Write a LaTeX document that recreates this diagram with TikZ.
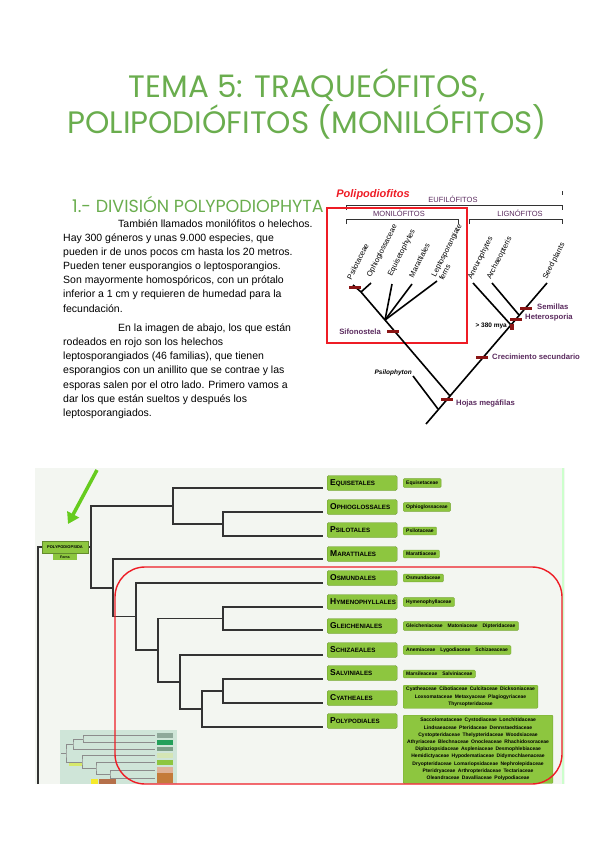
\documentclass[tikz,border=0pt]{standalone}
\usepackage{fontspec}
\setmainfont{Liberation Sans}
\newfontfamily\headfont{Poppins}
\usepackage{xcolor}
\usetikzlibrary{arrows.meta,positioning,calc}
\definecolor{leaf}{HTML}{6AAD4E}
\definecolor{plum}{HTML}{5A2A5E}
\definecolor{maroon}{HTML}{8A1515}
\definecolor{grass}{HTML}{8DC63F}
\definecolor{screen}{HTML}{F3F6F1}
\definecolor{arrowgreen}{HTML}{66CC1E}
\definecolor{boxred}{HTML}{EE1C25}
\definecolor{insetbg}{HTML}{CFE5D8}
\definecolor{ins1}{HTML}{8FA99A}
\definecolor{ins2}{HTML}{23A05A}
\definecolor{ins3}{HTML}{7C9F88}
\definecolor{ins4}{HTML}{D4E6B5}
\definecolor{ins5}{HTML}{8DC63F}
\definecolor{ins6}{HTML}{DFB197}
\definecolor{ins7}{HTML}{C47A3A}
\definecolor{tagpale}{HTML}{D6E86A}
\definecolor{tagyellow}{HTML}{F5EA2A}
\definecolor{tagbrown}{HTML}{B5704A}
\newcommand{\ordname}[2]{{\fontsize{8.5}{8.5}\selectfont #1}{\fontsize{6.2}{6.2}\selectfont #2}}

\begin{document}
\begin{tikzpicture}[x=1pt,y=-1pt,every node/.style={inner sep=0pt},
  title/.style={anchor=base,text=leaf,font=\headfont\fontsize{31}{34}\selectfont},
  branch/.style={line width=1.6pt,black},
  synbar/.style={fill=maroon,minimum width=12pt,minimum height=3pt},
  taxon/.style={rotate=63,anchor=west,font=\fontsize{7.5}{8.5}\selectfont},
  event/.style={text=plum,font=\bfseries\fontsize{7.7}{8}\selectfont},
  group/.style={text=plum,font=\fontsize{7.5}{8}\selectfont},
  bracket/.style={line width=0.8pt,black!80},
  clade/.style={line width=1.2pt,black!80},
  ordbox/.style={fill=grass,draw=grass!75!black,rounded corners=1.5pt,minimum width=70pt,minimum height=15pt,anchor=west,font=\bfseries,text width=64pt,align=left},
  fambox/.style={fill=grass,draw=grass!85!black,rounded corners=1pt,inner xsep=3pt,inner ysep=2pt,anchor=west,font=\bfseries\fontsize{5}{7.2}\selectfont,align=center},
  insetline/.style={line width=0.9pt,black!45}]
\useasboundingbox (0,0) rectangle (600,848);

\node[title] (tema) at (307,98) {TEMA 5: TRAQUEÓFITOS,};
\node[title] (tema2) at (307,133) {POLIPODIÓFITOS (MONILÓFITOS)};
\node[anchor=base west,text=leaf,font=\headfont\fontsize{17.5}{19}\selectfont] (division) at (72,212) {1.- DIVISIÓN POLYPODIOPHYTA};
\node[anchor=north west,align=left,font=\fontsize{10.5}{14.1}\selectfont] (texto) at (63,219.5) {\hspace*{55pt}También llamados monilófitos o helechos.\\
Hay 300 géneros y unas 9.000 especies, que\\
pueden ir de unos pocos cm hasta los 20 metros.\\
Pueden tener eusporangios o leptosporangios.\\
Son mayormente homospóricos, con un prótalo\\
inferior a 1 cm y requieren de humedad para la\\
fecundación.\\[5.5pt]
\hspace*{55pt}En la imagen de abajo, los que están\\
rodeados en rojo son los helechos\\
leptosporangiados (46 familias), que tienen\\
esporangios con un anillito que se contrae y las\\
esporas salen por el otro lado. Primero vamos a\\
dar los que están sueltos y después los\\
leptosporangiados.};

\node[text=boxred,font=\bfseries\itshape\fontsize{11}{12}\selectfont] (polip) at (373,195) {Polipodiofitos};
\node[group] (eufi) at (453,199) {EUFILÓFITOS};
\node[group] (moni) at (399,213) {MONILÓFITOS};
\node[group] (ligno) at (520,213) {LIGNÓFITOS};
\draw[bracket] (346,210) -- (346,205) -- (562,205) -- (562,210);
\draw[bracket] (562,191) -- (562,195);
\draw[bracket] (346,224) -- (346,219) -- (458,219) -- (458,224);
\draw[bracket] (469,224) -- (469,219) -- (562,219) -- (562,224);
\draw[boxred,line width=2.2pt] (327,208) rectangle (467,343);

\coordinate (r0) at (426,424);
\coordinate (psj) at (438,409);
\coordinate (meg) at (450,396);
\coordinate (nmon) at (385,320);
\coordinate (nps) at (361,292);
\coordinate (tpsil) at (353,285);
\coordinate (toph) at (371,283);
\coordinate (tequ) at (392,284);
\coordinate (tmar) at (412,284);
\coordinate (tlep) at (437,281);
\coordinate (tpsi) at (413,376);
\coordinate (tseed) at (547,283);
\coordinate (taneu) at (473,283);
\coordinate (tarch) at (492,283);
\coordinate (j380) at (511,325);
\coordinate (jhet) at (519,315);
\draw[branch] (r0) -- (meg) -- (nmon) -- (nps) -- (tpsil);
\draw[branch] (nps) -- (toph);
\draw[branch] (nmon) -- (tequ);
\draw[branch] (nmon) -- (tmar);
\draw[branch] (nmon) -- (tlep);
\draw[branch] (meg) -- (tseed);
\draw[branch] (psj) -- (tpsi);
\draw[branch] (taneu) -- (j380);
\draw[branch] (tarch) -- (jhet);
\node[synbar] (mpsil) at (355,287) {};
\node[synbar] (msifo) at (393,331) {};
\node[synbar] (mhojas) at (447,399) {};
\node[synbar] (mcrec) at (482,357) {};
\node[synbar] (mhet) at (516,319) {};
\node[synbar] (msem) at (526,308) {};
\node[fill=maroon,minimum width=4pt,minimum height=6pt] (m380) at (512,327) {};

\node[taxon] (lpsil) at (349,279) {Psilotaceae};
\node[taxon] (loph) at (369,277) {Ophioglossaceae};
\node[taxon] (lequ) at (390,276) {Equisetophytes};
\node[taxon] (lmar) at (411,277) {Marattiales};
\node[taxon,align=left] (llep) at (437,278) {Leptosporangiate\\ferns};
\node[taxon] (laneu) at (470,279) {Aneurophytes};
\node[taxon] (larch) at (489,279) {Archaeopteris};
\node[taxon] (lseed) at (545,279) {Seed plants};
\node[event,anchor=east] (sifo) at (381,332) {Sifonostela};
\node[event,anchor=west] (hojas) at (456,403) {Hojas megáfilas};
\node[event,anchor=west] (crec) at (492,357) {Crecimiento secundario};
\node[event,anchor=west] (hetero) at (525,318) {Heterosporia};
\node[event,anchor=west] (semi) at (537,307) {Semillas};
\node[anchor=east,font=\bfseries\fontsize{6.5}{7}\selectfont] (mya) at (507,326) {> 380 mya};
\node[anchor=east,font=\bfseries\itshape\fontsize{6.5}{7}\selectfont] (psilo) at (412,373) {Psilophyton};

\fill[screen] (35,468) rectangle (565,784);
\draw[green!20,line width=2.5pt] (563,468) -- (563,784);

\coordinate (tEq) at (323,488);
\coordinate (tOp) at (323,512);
\coordinate (tPs) at (323,536);
\coordinate (tMa) at (323,559);
\coordinate (tOs) at (323,583);
\coordinate (tHy) at (323,607);
\coordinate (tGl) at (323,630);
\coordinate (tSc) at (323,655);
\coordinate (tSa) at (323,679);
\coordinate (tCy) at (323,703);
\coordinate (tPo) at (323,727);
\coordinate (nOP) at (223,524);
\coordinate (nE) at (173,506);
\coordinate (nHG) at (223,618.5);
\coordinate (nSC) at (223,691);
\coordinate (nSCP) at (202,709);
\coordinate (nSch) at (180,682);
\coordinate (nLep) at (158,650);
\coordinate (nOsm) at (136,616.5);
\coordinate (nMar) at (113,588);
\coordinate (pRoot) at (91,547);
\coordinate (pBase) at (38,784);
\draw[clade] (tOp) -| (nOP) |- (tPs);
\draw[clade] (tEq) -| (nE) |- (nOP);
\draw[clade] (tSa) -| (nSC) |- (tCy);
\draw[clade] (nSC) -| (nSCP) |- (tPo);
\draw[clade] (tSc) -| (nSch) |- (nSCP);
\draw[clade] (tHy) -| (nHG) |- (tGl);
\draw[clade] (nHG) -| (nLep) |- (nSch);
\draw[clade] (tOs) -| (nOsm) |- (nLep);
\draw[clade] (tMa) -| (nMar) |- (nOsm);
\draw[clade] (nE) -| (pRoot) |- (nMar);
\draw[clade] (pBase) |- (pRoot);

\node[fill=grass,draw=grass!70!black,minimum width=46pt,minimum height=12pt,font=\bfseries\fontsize{4}{4}\selectfont] (polypo) at (65,547) {POLYPODIOPSIDA};
\node[fill=grass,minimum width=24pt,minimum height=6pt,font=\bfseries\fontsize{3.5}{4}\selectfont] (ferns) at (65,557) {Ferns};
\coordinate (arrtail) at (97,470);
\coordinate (arrhead) at (68,524);
\draw[arrowgreen,line width=3.5pt,-{Triangle[length=11pt,width=13pt]}] (arrtail) -- (arrhead);

\foreach \n/\y/\a/\b in {Eq/483/E/QUISETALES,Op/507/O/PHIOGLOSSALES,Ps/530/P/SILOTALES,Ma/554/M/ARATTIALES,Os/578/O/SMUNDALES,Hy/602/H/YMENOPHYLLALES,Gl/626/G/LEICHENIALES,Sc/650/S/CHIZAEALES,Sa/673/S/ALVINIALES,Cy/698/C/YATHEALES,Po/721/P/OLYPODIALES}
  \node[ordbox] (o\n) at (327,\y) {\ordname{\a}{\b}};

\node[fambox] (fEq) at (403,483) {Equisetaceae};
\node[fambox] (fOp) at (403,507) {Ophioglossaceae};
\node[fambox] (fPs) at (403,531) {Psilotaceae};
\node[fambox] (fMa) at (403,554) {Marattiaceae};
\node[fambox] (fOs) at (403,578) {Osmundaceae};
\node[fambox] (fHy) at (403,602) {Hymenophyllaceae};
\node[fambox] (fGl) at (403,626) {Gleicheniaceae\quad Matoniaceae\quad Dipteridaceae};
\node[fambox] (fSc) at (403,650) {Anemiaceae\quad Lygodiaceae\quad Schizaeaceae};
\node[fambox] (fSa) at (403,674) {Marsileaceae\quad Salviniaceae};
\node[fambox,anchor=north west] (fCy) at (403,685) {Cyatheaceae\enspace Cibotiaceae\enspace Culcitaceae\enspace Dicksoniaceae\\
Loxsomataceae\enspace Metaxyaceae\enspace Plagiogyriaceae\\
Thyrsopteridaceae};
\node[fambox,anchor=north west,inner xsep=4pt,inner ysep=3pt] (fPo) at (403,715) {Saccolomataceae\enspace Cystodiaceae\enspace Lonchitidaceae\\
Lindsaeaceae\enspace Pteridaceae\enspace Dennstaedtiaceae\\
Cystopteridaceae\enspace Thelypteridaceae\enspace Woodsiaceae\\
Athyriaceae\enspace Blechnaceae\enspace Onocleaceae\enspace Rhachidosoraceae\\
Diplaziopsidaceae\enspace Aspleniaceae\enspace Desmophlebiaceae\\
Hemidictyaceae\enspace Hypodematiaceae\enspace Didymochlaenaceae\\
Dryopteridaceae\enspace Lomariopsidaceae\enspace Nephrolepidaceae\\
Pteridryaceae\enspace Arthropteridaceae\enspace Tectariaceae\\
Oleandraceae\enspace Davalliaceae\enspace Polypodiaceae};

\fill[insetbg] (60,730) rectangle (177,784);
\coordinate (i1) at (155,735.5);
\coordinate (i2) at (155,742.5);
\coordinate (i3) at (155,749);
\coordinate (i4) at (155,755.5);
\coordinate (i5) at (155,762.5);
\coordinate (i6) at (155,770);
\coordinate (i7) at (155,778);
\coordinate (iA) at (83,739);
\coordinate (iB) at (73,744);
\coordinate (iE) at (110,774);
\coordinate (iD) at (96,768);
\coordinate (iC) at (82,762);
\coordinate (iR) at (66,753);
\coordinate (iS) at (61,753);
\draw[insetline] (i1) -| (iA) |- (i2);
\draw[insetline] (iA) -| (iB) |- (i3);
\draw[insetline] (i6) -| (iE) |- (i7);
\draw[insetline] (i5) -| (iD) |- (iE);
\draw[insetline] (i4) -| (iC) |- (iD);
\draw[insetline] (iB) -| (iR) |- (iC);
\draw[insetline] (iS) -- (iR);
\foreach \k/\h in {1/5,2/5,3/4.5,4/5,5/5.5,6/6,7/10}
  \node[fill=ins\k,minimum width=16pt,minimum height=\h pt] (ib\k) at ($(i\k)+(10,0)$) {};
\fill[tagpale] (69,763) rectangle (82,766);
\fill[tagyellow] (91,779) rectangle (98,784);
\fill[tagbrown] (99,779) rectangle (116,784);

\draw[boxred,line width=1.4pt,rounded corners=30pt] (115,567) rectangle (562,784);
\end{tikzpicture}
\end{document}
